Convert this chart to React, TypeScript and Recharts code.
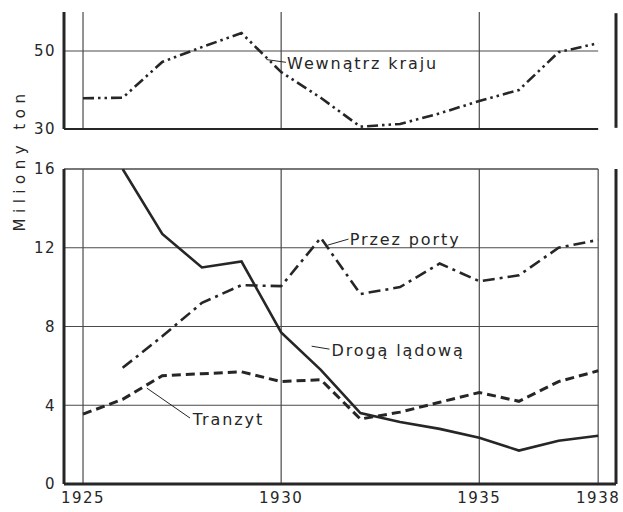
import { LineChart, Line, XAxis, YAxis, ReferenceLine, ReferenceDot } from 'recharts'

const years = [1925, 1926, 1927, 1928, 1929, 1930, 1931, 1932, 1933, 1934, 1935, 1936, 1937, 1938]
const wewnatrzKraju = [37.9, 38, 47.2, 51, 54.6, 44.6, 38, 30.6, 31.3, 34, 37.2, 40, 49.7, 52]
const drogaLadowa = [null, 16, 12.7, 11.0, 11.3, 7.7, 5.8, 3.6, 3.15, 2.8, 2.35, 1.7, 2.2, 2.45]
const przezPorty = [null, 5.9, 7.5, 9.2, 10.1, 10.05, 12.5, 9.65, 10.0, 11.2, 10.3, 10.6, 12.0, 12.4]
const tranzyt = [3.55, 4.3, 5.5, 5.6, 5.7, 5.2, 5.3, 3.3, 3.65, 4.15, 4.65, 4.2, 5.2, 5.75]

const xTicks = [1925, 1930, 1935, 1938]
const topTicks = [30, 50]
const bottomTicks = [0, 4, 8, 12, 16]

const topData = years.map((year, i) => ({ year, wewnatrz: wewnatrzKraju[i] }))
const bottomData = years.map((year, i) => ({
  year,
  droga: drogaLadowa[i],
  porty: przezPorty[i],
  tranzyt: tranzyt[i],
}))

const X_DOMAIN: [number, number] = [1924.52, 1938.45]
const INK = '#262626'
const GRID = '#4a4a4a'
const font = { fontFamily: 'DejaVu Sans', fontSize: 15, fill: INK, letterSpacing: 1.5 }
const labelFont = { fontFamily: 'DejaVu Sans', fontSize: 16, fill: INK, letterSpacing: 1.9 }

function lineLabel(text: string) {
  return { value: text, position: 'right' as const, offset: 0, style: labelFont }
}

export default function App() {
  return (
    <div style={{ position: 'absolute', left: 0, top: 0, width: 623, height: 512, background: '#fff' }}>
      <div style={{ position: 'absolute', left: 0, top: 0 }}>
        <LineChart width={623} height={140} data={topData} margin={{ top: 12, right: 7, bottom: 11, left: 0 }}>
          <XAxis dataKey="year" type="number" domain={X_DOMAIN} hide allowDataOverflow />
          <YAxis
            domain={[30, 60]}
            ticks={topTicks}
            width={64}
            tickLine={false}
            axisLine={{ stroke: INK, strokeWidth: 3 }}
            tick={font}
            allowDataOverflow
          />
          {[1925, 1930, 1935].map((x) => (
            <ReferenceLine key={x} x={x} stroke={GRID} strokeWidth={1.2} />
          ))}
          <ReferenceLine segment={[{ x: X_DOMAIN[0], y: 50 }, { x: 1938, y: 50 }]} stroke={GRID} strokeWidth={1.2} />
          <ReferenceLine segment={[{ x: X_DOMAIN[0], y: 30 }, { x: 1938, y: 30 }]} stroke={INK} strokeWidth={2} />
          <ReferenceLine segment={[{ x: 1938.45, y: 30.3 }, { x: 1938.45, y: 59.7 }]} stroke={INK} strokeWidth={3} />
          <ReferenceLine segment={[{ x: 1929.63, y: 47.8 }, { x: 1930.12, y: 47.1 }]} stroke={INK} strokeWidth={1} />
          <ReferenceDot x={1930.15} y={46.9} r={0} label={lineLabel('Wewnątrz  kraju')} />
          <Line
            dataKey="wewnatrz"
            stroke={INK}
            strokeWidth={2.6}
            strokeDasharray="11 4 2.5 4 2.5 4"
            dot={false}
            isAnimationActive={false}
          />
        </LineChart>
      </div>
      <div style={{ position: 'absolute', left: 0, top: 150 }}>
        <LineChart width={623} height={362} data={bottomData} margin={{ top: 19, right: 7, bottom: 0, left: 0 }}>
          <XAxis
            dataKey="year"
            type="number"
            domain={X_DOMAIN}
            ticks={xTicks}
            height={28}
            tickLine={false}
            axisLine={{ stroke: INK, strokeWidth: 3 }}
            tick={font}
            allowDataOverflow
          />
          <YAxis
            domain={[0, 16]}
            ticks={bottomTicks}
            width={64}
            tickLine={false}
            axisLine={{ stroke: INK, strokeWidth: 3 }}
            tick={font}
            allowDataOverflow
          />
          {[1925, 1930, 1935, 1938].map((x) => (
            <ReferenceLine key={x} x={x} stroke={GRID} strokeWidth={1.2} />
          ))}
          {[4, 8, 12, 16].map((y) => (
            <ReferenceLine
              key={y}
              segment={[{ x: X_DOMAIN[0], y }, { x: 1938, y }]}
              stroke={GRID}
              strokeWidth={y === 16 ? 1.6 : 1.2}
            />
          ))}
          <ReferenceLine x={1938.45} stroke={INK} strokeWidth={3} />
          <ReferenceLine segment={[{ x: 1931.17, y: 12.13 }, { x: 1931.7, y: 12.44 }]} stroke={INK} strokeWidth={1} />
          <ReferenceLine segment={[{ x: 1930.77, y: 7.0 }, { x: 1931.22, y: 6.85 }]} stroke={INK} strokeWidth={1} />
          <ReferenceLine segment={[{ x: 1926.61, y: 4.87 }, { x: 1927.7, y: 3.35 }]} stroke={INK} strokeWidth={1} />
          <ReferenceDot x={1931.73} y={12.44} r={0} label={lineLabel('Przez porty')} />
          <ReferenceDot x={1931.27} y={6.8} r={0} label={lineLabel('Drogą lądową')} />
          <ReferenceDot x={1927.77} y={3.3} r={0} label={lineLabel('Tranzyt')} />
          <Line dataKey="droga" stroke={INK} strokeWidth={2.6} dot={false} isAnimationActive={false} />
          <Line
            dataKey="porty"
            stroke={INK}
            strokeWidth={2.6}
            strokeDasharray="12 5 3 5"
            dot={false}
            isAnimationActive={false}
          />
          <Line
            dataKey="tranzyt"
            stroke={INK}
            strokeWidth={3}
            strokeDasharray="9 5"
            dot={false}
            isAnimationActive={false}
          />
        </LineChart>
      </div>
      <svg style={{ position: 'absolute', left: 0, top: 0 }} width={40} height={260}>
        <text
          x={0}
          y={0}
          transform="translate(25,160) rotate(-90)"
          textAnchor="middle"
          style={{ fontFamily: 'DejaVu Sans', fontSize: 15, fill: INK, letterSpacing: 5.5 }}
        >
          Miliony  ton
        </text>
      </svg>
    </div>
  )
}
